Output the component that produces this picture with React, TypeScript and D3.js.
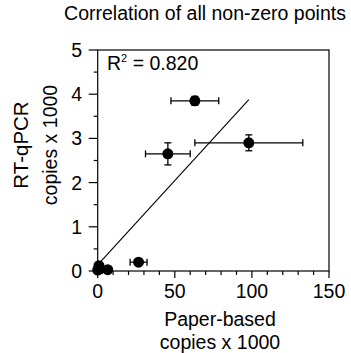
import React from 'react';
import * as d3 from 'd3';

// values (copies x 1000)
const paperX = [0, 0.8, 1.5, 6.5, 26.5, 45.5, 63, 98];
const paperErr = [0, 0, 0, 0, 5.5, 14.5, 15.5, 35];
const qpcrY = [0.02, 0.12, 0.05, 0.03, 0.2, 2.65, 3.85, 2.9];
const qpcrErr = [0, 0, 0, 0, 0.03, 0.25, 0.1, 0.18];
const fitLine = [[0, 0.14], [98, 3.88]];
const xTicks = [0, 50, 100, 150];
const yTicks = [0, 1, 2, 3, 4, 5];
const rSquared = '0.820';

const W = 351;
const H = 353;
const font = '"Liberation Sans", Arial, Helvetica, sans-serif';
const fs = 19.5;

const App = () => {
  const x = d3.scaleLinear().domain([0, 150]).range([97.7, 329]);
  const y = d3.scaleLinear().domain([0, 5]).range([271, 50]);
  const xMinor = d3.range(0, 151, 10);
  const yMinor = d3.range(0, 5.01, 0.5);
  const line = d3.line<number[]>().x(d => x(d[0])).y(d => y(d[1]));
  const cap = 3.5;

  return (
    <svg width={W} height={H} style={{ position: 'absolute', left: 0, top: 0 }} fontFamily={font}>
      <rect width={W} height={H} fill="#fff" />
      <text x={205} y={20} fontSize={19.5} textAnchor="middle">Correlation of all non-zero points</text>

      {/* frame */}
      <rect x={x(0)} y={y(5)} width={x(150) - x(0)} height={y(0) - y(5)} fill="none" stroke="#000" strokeWidth={1.2} />

      {/* x ticks */}
      {xMinor.map(t => (
        <line key={'xm' + t} x1={x(t)} x2={x(t)} y1={y(0)} y2={y(0) + (t % 50 === 0 ? 7 : 4)} stroke="#000" strokeWidth={1.2} />
      ))}
      {xTicks.map(t => (
        <text key={'xt' + t} x={x(t)} y={298} fontSize={fs} textAnchor="middle">{t}</text>
      ))}

      {/* y ticks */}
      {yMinor.map(t => (
        <line key={'ym' + t} x1={x(0) - (Math.abs(t - Math.round(t)) < 1e-6 ? 9 : 4)} x2={x(0)} y1={y(t)} y2={y(t)} stroke="#000" strokeWidth={1.2} />
      ))}
      {yTicks.map(t => (
        <text key={'yt' + t} x={82} y={y(t)} dy="0.36em" fontSize={fs} textAnchor="end">{t}</text>
      ))}

      {/* axis labels */}
      <text x={220} y={326} fontSize={fs} textAnchor="middle">Paper-based</text>
      <text x={220} y={349} fontSize={fs} textAnchor="middle">copies x 1000</text>
      <g transform="translate(28,145) rotate(-90)">
        <text x={0} y={0} fontSize={20.5} textAnchor="middle">RT-qPCR</text>
        <text x={0} y={29} fontSize={fs} textAnchor="middle">copies x 1000</text>
      </g>

      <text x={107} y={70} fontSize={fs}>
        R<tspan fontSize={11} dy={-8}>2</tspan><tspan dy={8}> = {rSquared}</tspan>
      </text>

      {/* fit line */}
      <path d={line(fitLine) || ''} fill="none" stroke="#000" strokeWidth={1.1} />

      {/* error bars */}
      {paperX.map((v, i) => (
        <g key={'e' + i} stroke="#000" strokeWidth={1.3}>
          {paperErr[i] > 0 && (
            <>
              <line x1={x(v - paperErr[i])} x2={x(v + paperErr[i])} y1={y(qpcrY[i])} y2={y(qpcrY[i])} />
              <line x1={x(v - paperErr[i])} x2={x(v - paperErr[i])} y1={y(qpcrY[i]) - cap} y2={y(qpcrY[i]) + cap} />
              <line x1={x(v + paperErr[i])} x2={x(v + paperErr[i])} y1={y(qpcrY[i]) - cap} y2={y(qpcrY[i]) + cap} />
            </>
          )}
          {qpcrErr[i] > 0 && (
            <>
              <line x1={x(v)} x2={x(v)} y1={y(qpcrY[i] - qpcrErr[i])} y2={y(qpcrY[i] + qpcrErr[i])} />
              <line x1={x(v) - cap} x2={x(v) + cap} y1={y(qpcrY[i] - qpcrErr[i])} y2={y(qpcrY[i] - qpcrErr[i])} />
              <line x1={x(v) - cap} x2={x(v) + cap} y1={y(qpcrY[i] + qpcrErr[i])} y2={y(qpcrY[i] + qpcrErr[i])} />
            </>
          )}
        </g>
      ))}

      {/* points */}
      {paperX.map((v, i) => (
        <circle key={'p' + i} cx={x(v)} cy={y(qpcrY[i])} r={5.5} fill="#000" />
      ))}
    </svg>
  );
};

export default App;
